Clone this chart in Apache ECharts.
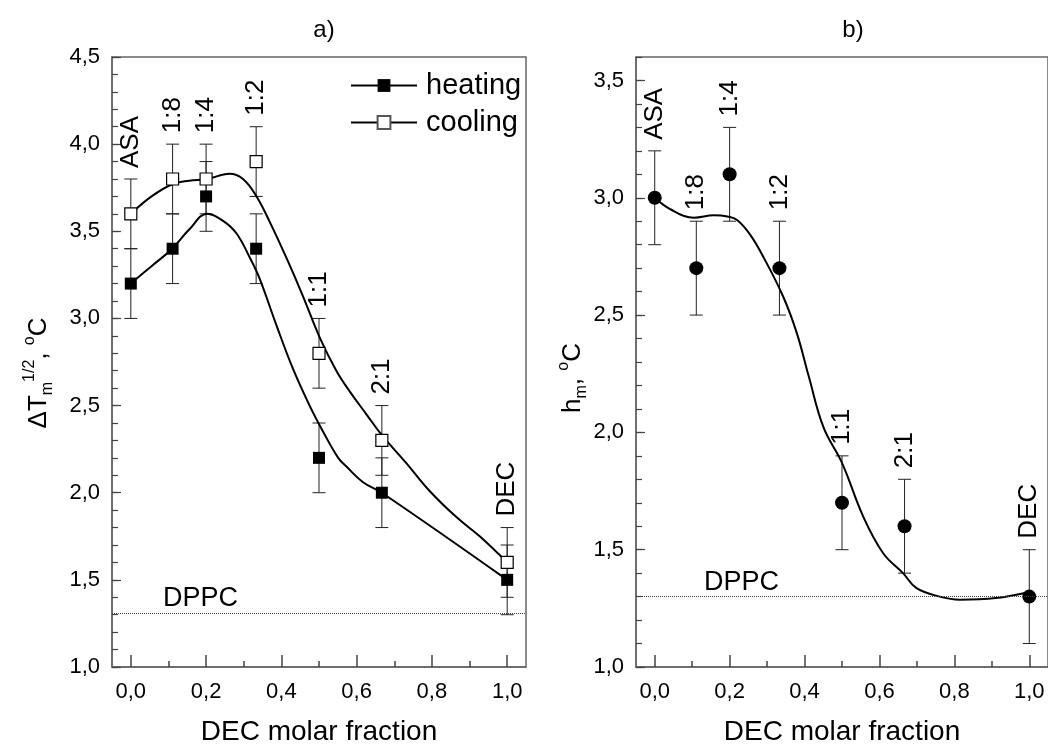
<!DOCTYPE html>
<html><head><meta charset="utf-8">
<script src="https://cdn.jsdelivr.net/npm/echarts@6/dist/echarts.min.js"></script>
<style>html,body{margin:0;padding:0;background:#fff}#c{width:1048px;height:751px}</style>
</head><body><div id="c"></div>
<script>
// ---------- data ----------
const fractions   = [0, 0.111, 0.2, 0.333, 0.5, 0.667, 1.0];
const ratioLabels = ['ASA', '1:8', '1:4', '1:2', '1:1', '2:1', 'DEC'];

const heating    = [3.2, 3.4, 3.7, 3.4, 2.2, 2.0, 1.5];
const heatingErr = [0.2, 0.2, 0.2, 0.2, 0.2, 0.2, 0.2];
const cooling    = [3.6, 3.8, 3.8, 3.9, 2.8, 2.3, 1.6];
const coolingErr = [0.2, 0.2, 0.2, 0.2, 0.2, 0.2, 0.2];

const hm    = [3.0, 2.7, 3.1, 2.7, 1.7, 1.6, 1.3];
const hmErr = [0.2, 0.2, 0.2, 0.2, 0.2, 0.2, 0.2];

const dppcA = 1.31;
const dppcB = 1.30;

// fitted curves
const heatingFitX = [0, 0.055, 0.11, 0.155, 0.203, 0.245, 0.28, 0.316, 0.342, 0.387, 0.431, 0.475, 0.511, 0.551, 0.573, 0.617, 0.667, 1.0];
const heatingFitY = [3.20, 3.30, 3.40, 3.51, 3.60, 3.56, 3.49, 3.35, 3.23, 2.96, 2.71, 2.50, 2.35, 2.20, 2.15, 2.06, 2.00, 1.50];
const coolingFitX = [0, 0.055, 0.11, 0.155, 0.203, 0.262, 0.298, 0.334, 0.37, 0.415, 0.457, 0.502, 0.546, 0.582, 0.626, 0.667, 0.732, 0.794, 0.865, 0.927, 1.0];
const coolingFitY = [3.60, 3.70, 3.77, 3.79, 3.80, 3.83, 3.80, 3.70, 3.55, 3.34, 3.13, 2.89, 2.70, 2.58, 2.45, 2.33, 2.17, 2.01, 1.86, 1.75, 1.60];
const hmFitX = [0, 0.043, 0.105, 0.158, 0.194, 0.22, 0.256, 0.291, 0.344, 0.38, 0.411, 0.451, 0.5, 0.557, 0.61, 0.663, 0.699, 0.761, 0.814, 0.911, 1.0];
const hmFitY = [3.00, 2.95, 2.915, 2.925, 2.92, 2.905, 2.84, 2.745, 2.575, 2.42, 2.24, 2.02, 1.87, 1.64, 1.485, 1.40, 1.336, 1.30, 1.287, 1.294, 1.32];

// ticks
const xTickValues  = [0, 0.2, 0.4, 0.6, 0.8, 1.0];
const xMinorValues = [0.1, 0.3, 0.5, 0.7, 0.9];
const yTickValuesA = [1.0, 1.5, 2.0, 2.5, 3.0, 3.5, 4.0, 4.5];
const yTickValuesB = [1.0, 1.5, 2.0, 2.5, 3.0, 3.5];

// ---------- helpers ----------
const FONT = 'Liberation Sans, Arial, sans-serif';
const fmt = v => Number(v).toFixed(1).replace('.', ',');
const pairs = (xs, ys) => xs.map((x, i) => [x, ys[i]]);
const errData = (vals, errs) => fractions.map((f, i) => [f, vals[i] - errs[i], vals[i] + errs[i]]);

function errorBar(xi, yi, data) {
  return {
    type: 'custom', xAxisIndex: xi, yAxisIndex: yi, z: 1, silent: true,
    data: data,
    renderItem: function (params, api) {
      const x = api.value(0), lo = api.value(1), hi = api.value(2);
      const a = api.coord([x, lo]), b = api.coord([x, hi]);
      const hw = 6.5, st = {stroke: '#222', lineWidth: 1};
      return {type: 'group', children: [
        {type: 'line', shape: {x1: a[0], y1: a[1], x2: b[0], y2: b[1]}, style: st},
        {type: 'line', shape: {x1: a[0] - hw, y1: a[1], x2: a[0] + hw, y2: a[1]}, style: st},
        {type: 'line', shape: {x1: b[0] - hw, y1: b[1], x2: b[0] + hw, y2: b[1]}, style: st}
      ]};
    }
  };
}

function xMain(gi, nameGap) {
  return {
    type: 'value', gridIndex: gi, min: -0.05, max: 1.05,
    name: 'DEC molar fraction', nameLocation: 'middle', nameGap: nameGap,
    nameTextStyle: {fontSize: 28, fontFamily: FONT, color: '#000'},
    axisLine: {show: true, onZero: false, lineStyle: {color: '#666', width: 1.5}},
    axisTick: {show: true, inside: true, length: 12, customValues: xTickValues, lineStyle: {color: '#444', width: 1.5}},
    axisLabel: {show: true, customValues: xTickValues, formatter: fmt, fontSize: 22, fontFamily: FONT, color: '#000', margin: 14},
    splitLine: {show: false}
  };
}
function xMinor(gi) {
  return {
    type: 'value', gridIndex: gi, min: -0.05, max: 1.05, position: 'bottom',
    axisLine: {show: false, onZero: false},
    axisTick: {show: true, inside: true, length: 6, customValues: xMinorValues, lineStyle: {color: '#444', width: 1.5}},
    axisLabel: {show: false}, splitLine: {show: false}
  };
}
function yMain(gi, max, ticks, name, nameGap, rich, pad) {
  return {
    type: 'value', gridIndex: gi, min: 1, max: max,
    name: name, nameLocation: 'middle', nameGap: nameGap, nameRotate: 90,
    nameTextStyle: {fontFamily: FONT, color: '#000', padding: pad, rich: rich},
    axisLine: {show: true, onZero: false, lineStyle: {color: '#666', width: 1.5}},
    axisTick: {show: true, inside: true, length: 9, customValues: ticks, lineStyle: {color: '#444', width: 1.2}},
    axisLabel: {show: true, customValues: ticks, formatter: fmt, fontSize: 22, fontFamily: FONT, color: '#000', margin: 12},
    splitLine: {show: false}
  };
}
function yMinor(gi, max) {
  return {
    type: 'value', gridIndex: gi, min: 1, max: max, interval: 0.1, position: 'left',
    axisLine: {show: false, onZero: false},
    axisTick: {show: true, inside: true, length: 6, lineStyle: {color: '#444', width: 1.2}},
    axisLabel: {show: false}, splitLine: {show: false}
  };
}
const richName = {
  n:   {fontSize: 26, fontFamily: FONT, color: '#000', lineHeight: 34, verticalAlign: 'middle'},
  sub: {fontSize: 16, fontFamily: FONT, color: '#000', lineHeight: 16, verticalAlign: 'bottom'},
  sup: {fontSize: 16, fontFamily: FONT, color: '#000', lineHeight: 16, verticalAlign: 'top'}
};

function labelSeries(xi, yi, tops) {
  return {
    type: 'scatter', xAxisIndex: xi, yAxisIndex: yi, z: 5, silent: true,
    symbol: 'circle', symbolSize: 1, itemStyle: {color: 'rgba(0,0,0,0)', opacity: 1},
    data: fractions.map((f, i) => [f, tops[i]]),
    label: {
      show: true, position: 'inside', rotate: 90, align: 'left', verticalAlign: 'middle', opacity: 1,
      padding: [0, 0, 0, 11], fontSize: 26, fontFamily: FONT, color: '#000',
      formatter: p => ratioLabels[p.dataIndex]
    }
  };
}
function dppcLine(value, padLeft) {
  return {
    silent: true, symbol: 'none',
    lineStyle: {type: 'dotted', color: '#444', width: 1},
    label: {show: true, formatter: 'DPPC', position: 'insideStartTop', distance: 1,
            padding: [0, 0, 0, padLeft], fontSize: 27, fontFamily: FONT, color: '#000'},
    data: [{yAxis: value}]
  };
}

const topsA = fractions.map((f, i) => Math.max(heating[i] + heatingErr[i], cooling[i] + coolingErr[i]));
const topsB = fractions.map((f, i) => hm[i] + hmErr[i]);

const option = {
  animation: false,
  backgroundColor: '#fff',
  title: [
    {text: 'a)', left: 324, top: 18, textAlign: 'center', padding: 0,
     textStyle: {fontSize: 24, fontWeight: 'normal', fontFamily: FONT, color: '#000'}},
    {text: 'b)', left: 853, top: 18, textAlign: 'center', padding: 0,
     textStyle: {fontSize: 24, fontWeight: 'normal', fontFamily: FONT, color: '#000'}}
  ],
  legend: {
    data: ['heating', 'cooling'], orient: 'vertical', left: 350, top: 71,
    itemWidth: 66, itemHeight: 16, itemGap: 8, padding: 0, selectedMode: false,
    textStyle: {fontSize: 29, fontFamily: FONT, color: '#000', lineHeight: 29, padding: [0, 0, 0, 4]}
  },
  grid: [
    {left: 112, top: 57, width: 414, height: 614, show: true, borderColor: '#666', borderWidth: 1.5, containLabel: false},
    {left: 636, top: 57, width: 420, height: 614, show: true, borderColor: '#666', borderWidth: 1.5, containLabel: false}
  ],
  xAxis: [xMain(0, 51), xMinor(0), xMain(1, 51), xMinor(1)],
  yAxis: [
    yMain(0, 4.5, yTickValuesA, '{n|ΔT}{sub|m}{sup|1/2}{n|, }{sup|o}{n|C}', 56, richName, [0, 22, 0, 0]),
    yMinor(0, 4.5),
    yMain(1, 3.6, yTickValuesB, '{n|h}{sub|m}{n|, }{sup|o}{n|C}', 42, richName, [0, 32, 0, 0]),
    yMinor(1, 3.6)
  ],
  series: [
    // panel a
    errorBar(0, 0, errData(heating, heatingErr)),
    errorBar(0, 0, errData(cooling, coolingErr)),
    {name: 'heating', type: 'line', xAxisIndex: 0, yAxisIndex: 0, z: 2, smooth: 0.4, showSymbol: false,
     symbol: 'rect', symbolSize: 12, silent: true,
     lineStyle: {color: '#000', width: 2}, itemStyle: {color: '#000'},
     data: pairs(heatingFitX, heatingFitY), markLine: dppcLine(dppcA, 50)},
    {name: 'cooling', type: 'line', xAxisIndex: 0, yAxisIndex: 0, z: 2, smooth: 0.4, showSymbol: false,
     symbol: 'rect', symbolSize: 12, silent: true,
     lineStyle: {color: '#000', width: 2}, itemStyle: {color: '#fff', borderColor: '#555', borderWidth: 1},
     data: pairs(coolingFitX, coolingFitY)},
    {name: 'heating pts', type: 'scatter', xAxisIndex: 0, yAxisIndex: 0, z: 3, silent: true,
     symbol: 'rect', symbolSize: 12, itemStyle: {color: '#000', opacity: 1},
     data: pairs(fractions, heating)},
    {name: 'cooling pts', type: 'scatter', xAxisIndex: 0, yAxisIndex: 0, z: 3, silent: true,
     symbol: 'rect', symbolSize: 12, itemStyle: {color: '#fff', borderColor: '#000', borderWidth: 1.2, opacity: 1},
     data: pairs(fractions, cooling)},
    labelSeries(0, 0, topsA),
    // panel b
    errorBar(2, 2, errData(hm, hmErr)),
    {name: 'hm fit', type: 'line', xAxisIndex: 2, yAxisIndex: 2, z: 2, smooth: 0.4, showSymbol: false, silent: true,
     lineStyle: {color: '#000', width: 2},
     data: pairs(hmFitX, hmFitY), markLine: dppcLine(dppcB, 67)},
    {name: 'hm pts', type: 'scatter', xAxisIndex: 2, yAxisIndex: 2, z: 3, silent: true,
     symbol: 'circle', symbolSize: 14, itemStyle: {color: '#000', opacity: 1},
     data: pairs(fractions, hm)},
    labelSeries(2, 2, topsB)
  ]
};

const chart = echarts.init(document.getElementById('c'), null, {renderer: 'canvas'});
chart.setOption(option);
</script>
</body></html>
